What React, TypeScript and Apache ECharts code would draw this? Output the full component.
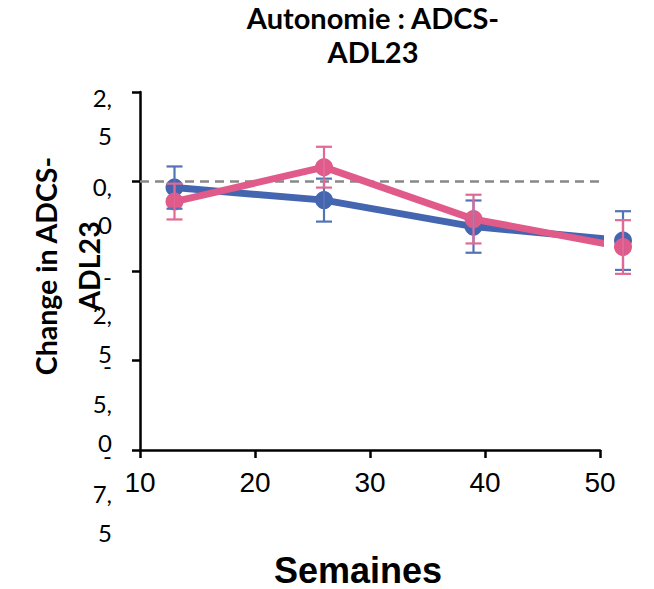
import React, { useEffect, useRef } from "react";
import * as echarts from "echarts";

const titleText = "Autonomie : ADCS-\nADL23";
const yAxisTitle = "Change in ADCS-\nADL23";
const xAxisTitle = "Semaines";

const weeks = [13, 26, 39, 52];
const blueMean = [-0.17, -0.52, -1.26, -1.65];
const blueErr = [0.59, 0.6, 0.73, 0.82];
const pinkMean = [-0.56, 0.4, -1.05, -1.83];
const pinkErr = [0.5, 0.57, 0.68, 0.75];
const zeroLineX = [10, 54];
const zeroLineY = [0, 0];
// y tick labels are split over two axes so that their tall wrapped blocks are all kept
const yLabelsA = [2.5, -2.5, -7.5];
const yLabelsB = [0, -5];

const BLUE = "#4465AF";
const PINK = "#E05A8A";
const BLUE_ERR = "#5572B6";
const PINK_ERR = "#E06A95";

function yLabel(v: number): string {
  const s = v.toFixed(1).replace(".", ",");
  const neg = s.startsWith("-");
  const body = neg ? s.slice(1) : s;
  const [ip, dp] = body.split(",");
  const lines = neg ? ["-", ip + ",", dp] : [ip + ",", dp];
  return lines.map((t, i) => `{l${i}|${t}}`).join("\n");
}

function errSeries(name: string, mean: number[], err: number[], color: string) {
  return {
    type: "custom",
    name,
    clip: false,
    z: 5,
    encode: { x: 0, y: [1, 2] },
    data: weeks.map((w, i) => [w, mean[i] - err[i], mean[i] + err[i]]),
    renderItem: (params: any, api: any) => {
      const x = api.value(0);
      const top = api.coord([x, api.value(2)]);
      const bot = api.coord([x, api.value(1)]);
      const hw = 8;
      const style = { stroke: color, lineWidth: 2.2 };
      return {
        type: "group",
        children: [
          { type: "line", shape: { x1: top[0], y1: top[1], x2: bot[0], y2: bot[1] }, style },
          { type: "line", shape: { x1: top[0] - hw, y1: top[1], x2: top[0] + hw, y2: top[1] }, style },
          { type: "line", shape: { x1: bot[0] - hw, y1: bot[1], x2: bot[0] + hw, y2: bot[1] }, style },
        ],
      };
    },
  };
}

export default function App() {
  const ref = useRef<HTMLDivElement>(null);
  useEffect(() => {
    if (!ref.current) return;
    const chart = echarts.init(ref.current, null, { renderer: "svg" });
    const labelFont = { fontFamily: "Lato", fontSize: 24, color: "#000" };
    const rich = {
      l0: { ...labelFont, lineHeight: 10 },
      l1: { ...labelFont, lineHeight: 66 },
      l2: { ...labelFont, lineHeight: 12 },
    };
    const baseY = { type: "value", min: -7.5, max: 2.5, interval: 2.5, splitLine: { show: false } };
    chart.setOption({
      animation: false,
      backgroundColor: "#fff",
      title: {
        text: titleText,
        left: 373,
        top: 0,
        padding: 0,
        textAlign: "center",
        textStyle: { fontFamily: "Lato", fontWeight: "bold", fontSize: 29, lineHeight: 34, color: "#000" },
      },
      grid: { left: 140, right: 54, top: 92, bottom: 139, outerBoundsMode: "none" },
      xAxis: {
        type: "value",
        min: 10,
        max: 50,
        interval: 10,
        name: xAxisTitle,
        nameLocation: "middle",
        nameGap: 105,
        nameMoveOverlap: false,
        nameTextStyle: {
          fontFamily: "Liberation Sans",
          fontWeight: "bold",
          fontSize: 36,
          lineHeight: 30,
          color: "#000",
          padding: [0, 24, 0, 0],
        },
        axisLine: { onZero: false, lineStyle: { color: "#000", width: 2.5 } },
        axisTick: { length: 8, lineStyle: { color: "#000", width: 2.5 } },
        axisLabel: { margin: 18, fontFamily: "Liberation Sans", fontSize: 28, color: "#000" },
        splitLine: { show: false },
      },
      yAxis: [
        {
          ...baseY,
          name: yAxisTitle,
          nameLocation: "middle",
          nameGap: 30,
          nameMoveOverlap: false,
          nameTextStyle: {
            fontFamily: "Lato",
            fontWeight: "bold",
            fontSize: 28.5,
            lineHeight: 43,
            color: "#000",
            padding: [0, 0, 0, 10],
          },
          axisLine: { show: true, onZero: false, lineStyle: { color: "#000", width: 2.5 } },
          axisTick: { show: true, length: 8, lineStyle: { color: "#000", width: 2.5 } },
          axisLabel: {
            margin: 28,
            verticalAlign: "top",
            align: "right",
            showMinLabel: true,
            showMaxLabel: true,
            formatter: (v: number) => (yLabelsA.includes(v) ? yLabel(v) : ""),
            rich,
          },
        },
        {
          ...baseY,
          position: "left",
          offset: 0,
          axisLine: { show: false, onZero: false },
          axisTick: { show: false },
          axisLabel: {
            margin: 28,
            verticalAlign: "top",
            align: "right",
            showMinLabel: true,
            showMaxLabel: true,
            formatter: (v: number) => (yLabelsB.includes(v) ? yLabel(v) : ""),
            rich,
          },
        },
      ],
      series: [
        {
          type: "line",
          name: "zero",
          data: zeroLineX.map((x, i) => [x, zeroLineY[i]]),
          symbol: "none",
          clip: false,
          z: 1,
          lineStyle: { color: "#888", width: 2.5, type: [9, 6] },
        },
        {
          type: "line",
          name: "Bleu",
          data: weeks.map((w, i) => [w, blueMean[i]]),
          symbol: "circle",
          symbolSize: 18,
          clip: false,
          z: 2,
          itemStyle: { color: BLUE },
          lineStyle: { color: BLUE, width: 7 },
        },
        {
          type: "line",
          name: "Rose",
          data: weeks.map((w, i) => [w, pinkMean[i]]),
          symbol: "circle",
          symbolSize: 18,
          clip: false,
          z: 3,
          itemStyle: { color: PINK },
          lineStyle: { color: PINK, width: 7 },
        },
        errSeries("Bleu err", blueMean, blueErr, BLUE_ERR),
        errSeries("Rose err", pinkMean, pinkErr, PINK_ERR),
      ],
    });
    return () => chart.dispose();
  }, []);
  return (
    <div
      ref={ref}
      style={{ position: "absolute", left: 0, top: 0, width: 654, height: 589, background: "#fff" }}
    />
  );
}
